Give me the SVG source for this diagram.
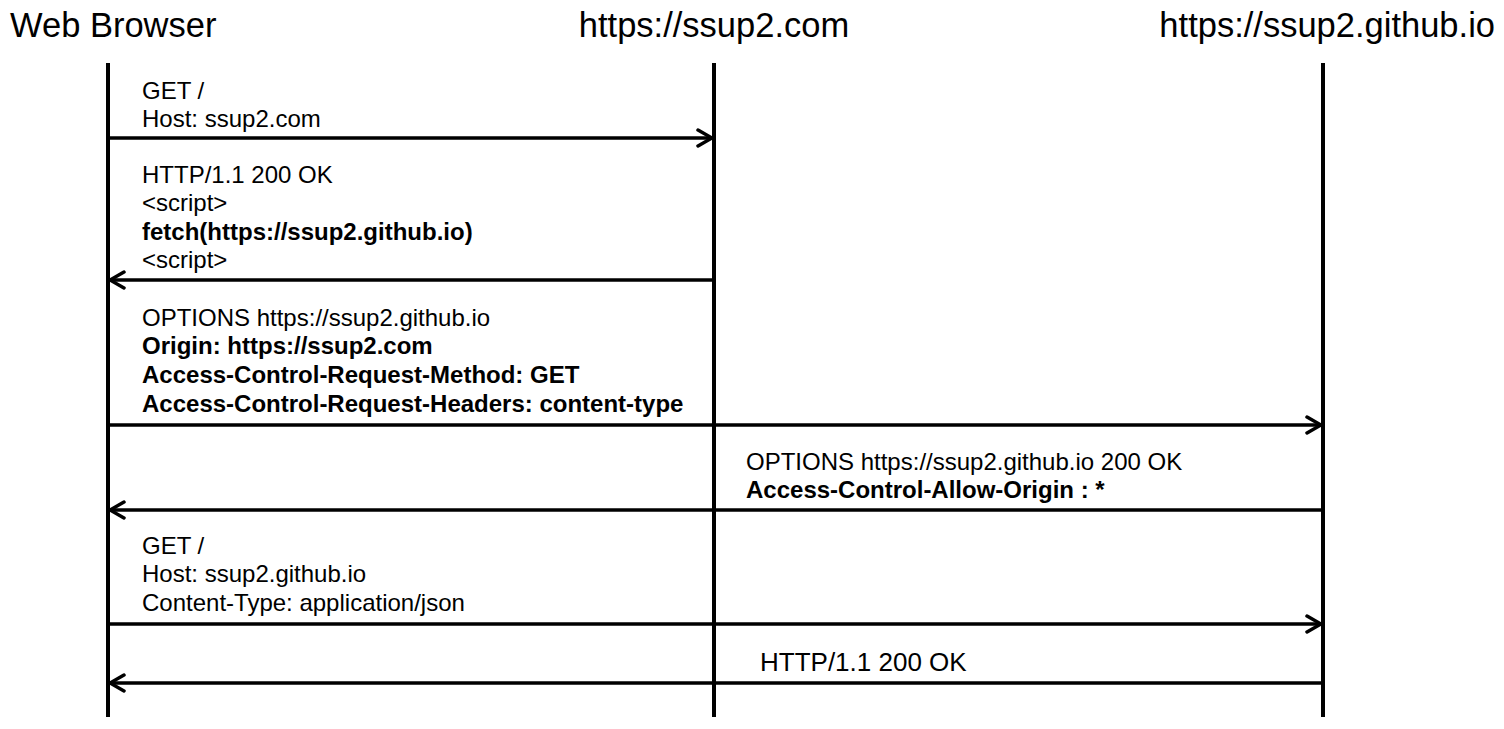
<svg xmlns="http://www.w3.org/2000/svg" width="1504" height="729" viewBox="0 0 1504 729">
<style>
text{font-family:"Liberation Sans",Arial,sans-serif;fill:#000}
.h{font-size:34.5px}
.t{font-size:24px}
.b{font-weight:bold}
.life{stroke:#000;stroke-width:4;fill:none}
.msg{stroke:#000;stroke-width:3.5;fill:none;marker-end:url(#arr)}
</style>
<defs>
<marker id="arr" markerUnits="userSpaceOnUse" viewBox="0 0 20 20" refX="18" refY="10" markerWidth="20" markerHeight="20" orient="auto">
<path d="M4,2 L18,10 L4,18" fill="none" stroke="#000" stroke-width="3.5" stroke-linecap="round" stroke-linejoin="miter"/>
</marker>
</defs>
<g id="browser">
<text class="h" x="10" y="37">Web Browser</text>
<line class="life" x1="108" y1="63" x2="108" y2="717"/>
</g>
<g id="ssup2com">
<text class="h" x="714" y="37" text-anchor="middle">https://ssup2.com</text>
<line class="life" x1="714" y1="63" x2="714" y2="717"/>
</g>
<g id="github">
<text class="h" x="1495" y="37" text-anchor="end">https://ssup2.github.io</text>
<line class="life" x1="1323" y1="63" x2="1323" y2="717"/>
</g>
<g id="connectors">
<line class="msg" x1="108" y1="138" x2="712" y2="138"/>
<line class="msg" x1="714" y1="280" x2="110" y2="280"/>
<line class="msg" x1="108" y1="425" x2="1321" y2="425"/>
<line class="msg" x1="1323" y1="510" x2="110" y2="510"/>
<line class="msg" x1="108" y1="624" x2="1321" y2="624"/>
<line class="msg" x1="1323" y1="683" x2="110" y2="683"/>
</g>
<g id="labels">
<text class="t" x="142" y="99">GET /</text>
<text class="t" x="142" y="127">Host: ssup2.com</text>
<text class="t" x="142" y="183">HTTP/1.1 200 OK</text>
<text class="t" x="142" y="211">&lt;script&gt;</text>
<text class="t b" x="142" y="240">fetch(https://ssup2.github.io)</text>
<text class="t" x="142" y="268">&lt;script&gt;</text>
<text class="t" x="142" y="326">OPTIONS https://ssup2.github.io</text>
<text class="t b" x="142" y="354">Origin: https://ssup2.com</text>
<text class="t b" x="142" y="383">Access-Control-Request-Method: GET</text>
<text class="t b" x="142" y="412">Access-Control-Request-Headers: content-type</text>
<text class="t" x="746" y="470">OPTIONS https://ssup2.github.io 200 OK</text>
<text class="t b" x="746" y="498">Access-Control-Allow-Origin : *</text>
<text class="t" x="142" y="554">GET /</text>
<text class="t" x="142" y="582">Host: ssup2.github.io</text>
<text class="t" x="142" y="611">Content-Type: application/json</text>
<text class="t" x="760" y="671" style="font-size:26px">HTTP/1.1 200 OK</text>
</g>
</svg>
